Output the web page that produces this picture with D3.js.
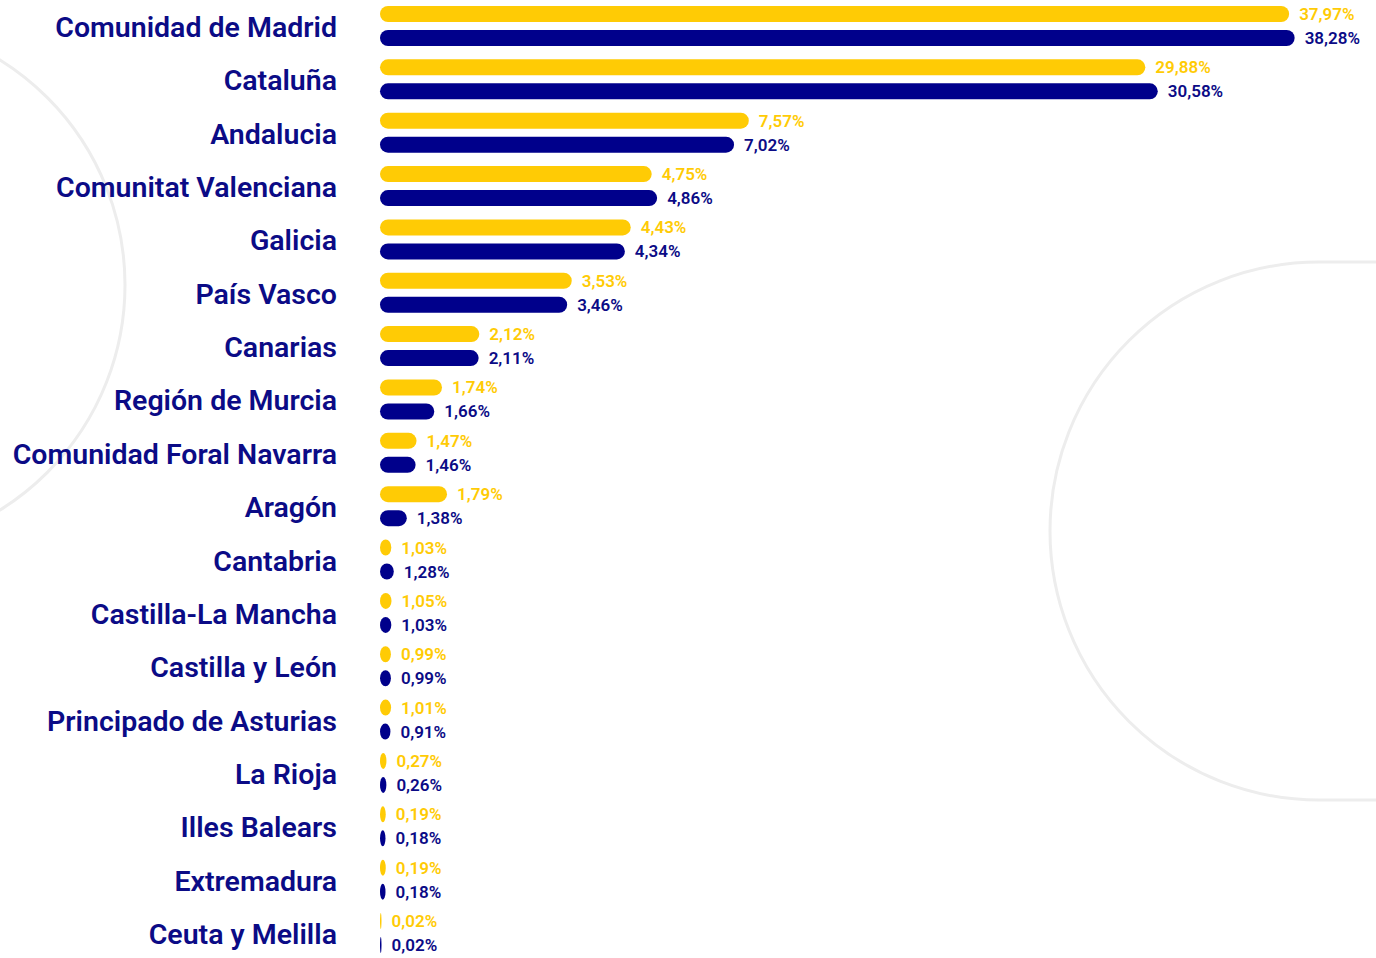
<!DOCTYPE html>
<html lang="es">
<head>
<meta charset="utf-8">
<script src="https://cdn.jsdelivr.net/npm/d3@7"></script>
<style>
  html, body { margin: 0; padding: 0; background: #ffffff; }
  svg { display: block; }
</style>
</head>
<body>
<svg id="chart" width="1376" height="958"></svg>
<script>
// Comunidades autónomas y porcentajes de cada serie
const regiones = [
  "Comunidad de Madrid", "Cataluña", "Andalucia", "Comunitat Valenciana", "Galicia",
  "País Vasco", "Canarias", "Región de Murcia", "Comunidad Foral Navarra", "Aragón",
  "Cantabria", "Castilla-La Mancha", "Castilla y León", "Principado de Asturias",
  "La Rioja", "Illes Balears", "Extremadura", "Ceuta y Melilla"
];
const serieAmarilla = [37.97, 29.88, 7.57, 4.75, 4.43, 3.53, 2.12, 1.74, 1.47, 1.79, 1.03, 1.05, 0.99, 1.01, 0.27, 0.19, 0.19, 0.02];
const serieAzul     = [38.28, 30.58, 7.02, 4.86, 4.34, 3.46, 2.11, 1.66, 1.46, 1.38, 1.28, 1.03, 0.99, 0.91, 0.26, 0.18, 0.18, 0.02];

const AMARILLO = "#ffcb05";
const AZUL = "#00008b";
const TEXTO = "#0b0b86";

const svg = d3.select("#chart");

// Decoración de fondo: arco a la izquierda y forma redondeada a la derecha
const deco = svg.append("g").attr("fill", "none").attr("stroke", "#ededed").attr("stroke-width", 3);
deco.append("circle").attr("cx", -140).attr("cy", 285).attr("r", 265);
deco.append("rect").attr("x", 1050).attr("y", 262).attr("width", 700).attr("height", 538)
  .attr("rx", 269).attr("ry", 269);

// Escalas
const y = d3.scalePoint().domain(regiones).range([27, 934]);
// Escala por tramos: amplía las diferencias entre los valores pequeños
const x0 = 380;
const len = d3.scaleLinear()
  .domain([0, 0.2, 1, 1.3, 1.4, 1.7, 2.1, 4.8, 7.3, 38.3])
  .range([1, 6, 11, 14, 30, 58, 98, 275, 364, 915])
  .clamp(true);

const barH = 16;
const series = [
  { valores: serieAmarilla, color: AMARILLO, off: -13 },
  { valores: serieAzul, color: AZUL, off: 11 }
];

const fmt = v => d3.format(".2f")(v).replace(".", ",") + "%";

series.forEach(s => {
  const g = svg.append("g");
  const datos = regiones.map((r, i) => ({ r, v: s.valores[i] }));
  g.selectAll("rect").data(datos).join("rect")
    .attr("x", x0)
    .attr("y", d => y(d.r) + s.off - barH / 2)
    .attr("width", d => len(d.v))
    .attr("height", barH)
    .attr("rx", d => Math.min(barH / 2, len(d.v) / 2))
    .attr("ry", barH / 2)
    .attr("fill", s.color);
  g.selectAll("text").data(datos).join("text")
    .attr("x", d => x0 + len(d.v) + 10)
    .attr("y", d => y(d.r) + s.off + 6)
    .attr("font-family", "Roboto, 'Noto Sans', sans-serif")
    .attr("font-weight", 600)
    .attr("font-size", 17)
    .attr("fill", s.color === AZUL ? TEXTO : AMARILLO)
    .text(d => fmt(d.v));
});

// Nombres de las comunidades
svg.append("g").selectAll("text").data(regiones).join("text")
  .attr("x", 337)
  .attr("y", d => y(d) + 10)
  .attr("text-anchor", "end")
  .attr("font-family", "Roboto, 'Noto Sans', sans-serif")
  .attr("font-weight", 600)
  .attr("font-size", 28.5)
  .attr("fill", TEXTO)
  .text(d => d);
</script>
</body>
</html>
